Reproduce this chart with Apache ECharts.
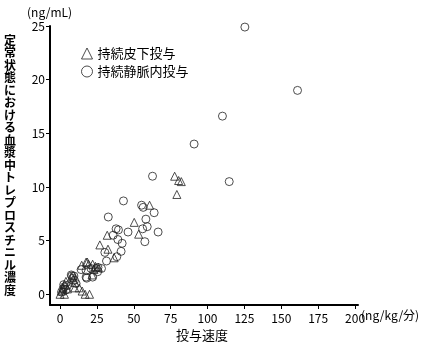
<!DOCTYPE html>
<html><head><meta charset="utf-8">
<script src="https://cdn.jsdelivr.net/npm/echarts@6/dist/echarts.min.js"></script>
<style>html,body{margin:0;padding:0;background:#fff}#c{width:437px;height:355px}</style>
</head><body><div id="c"></div>
<script>
var xTicks = [0, 25, 50, 75, 100, 125, 150, 175, 200];
var yTicks = [0, 5, 10, 15, 20, 25];
var seriesNames = ['持続皮下投与', '持続静脈内投与'];
var subcutaneous = [
  [0,0],[3,0],[1,0.3],[2,0.6],[3,0.9],[4,1.2],[2,0.4],[5,0.5],
  [8,1.6],[9,1.4],[10,1.1],[10,0.6],[13,0.6],[15,0.3],[17,0],[20,0],
  [14.7,2.7],[17.7,3.0],[19.4,2.8],[22.1,2.8],[24,2.6],[18.5,3.0],[21.7,1.8],[23,2.3],
  [27,4.6],[32,5.5],[32.5,4.2],[36.7,3.4],[26,2.5],
  [50.3,6.7],[53.3,5.6],[60.7,8.3],
  [77.7,11.0],[80.4,10.6],[82.2,10.5],[79.2,9.3]
];
var intravenous = [
  [1,0.2],[2,0.5],[3,0.7],[4,0.4],[2.5,0.9],[5,0.8],
  [7.6,1.8],[8.7,1.5],[9.8,1.3],[10.9,1.0],[8,1.7],[9.4,1.7],
  [14.3,2.3],[17.7,2.2],[21,2.4],[24.4,2.4],[25.7,2.5],[28.1,2.4],[25.5,2.1],
  [17.7,1.6],[22.1,1.6],[18.1,1.5],
  [30.4,3.9],[31.5,3.1],[38.5,3.5],[41.4,4.0],[42.1,4.75],[39.2,5.1],[36,5.5],[38,6.1],[39.6,6.0],[46.1,5.8],[32.7,7.2],[43,8.7],
  [55.3,8.3],[56.4,8.1],[63.8,7.6],[58.2,7.0],[59.1,6.3],[56,6.1],[57.5,4.9],[66.5,5.8],
  [62.7,11.0],[90.9,14.0],[110.1,16.6],[114.7,10.5],[125.3,24.9],[161,19.0]
];
var yTitle = '定常状態における血漿中トレプロスチニル濃度';
var yUnit = '(ng/mL)';
var xUnit = '(ng/kg/分)';
var xTitle = '投与速度';

var FONT = '"Noto Sans CJK JP", sans-serif';
var chart = echarts.init(document.getElementById('c'));
var axisCommon = {
  axisLine: {show: true, onZero: false, lineStyle: {color: '#000', width: 2}},
  axisTick: {show: true, length: 4, lineStyle: {color: '#000', width: 1}},
  axisLabel: {color: '#000', fontSize: 12, fontFamily: FONT},
  splitLine: {show: false}
};
chart.setOption({
  animation: false,
  backgroundColor: '#fff',
  grid: {left: 50, right: 79, top: 26, bottom: 50},
  legend: {
    orient: 'vertical', left: 76, top: 42, itemGap: 5, itemWidth: 11, itemHeight: 11,
    itemStyle: {borderWidth: 1, borderColor: '#222', color: 'rgba(255,255,255,0)'},
    textStyle: {color: '#000', fontSize: 13, fontFamily: FONT},
    data: [{name: seriesNames[0], icon: 'triangle'}, {name: seriesNames[1], icon: 'circle'}]
  },
  xAxis: Object.assign({}, axisCommon, {
    type: 'value', min: -6.8, max: 202,
    axisTick: Object.assign({}, axisCommon.axisTick, {customValues: xTicks}),
    axisLabel: Object.assign({}, axisCommon.axisLabel, {customValues: xTicks, margin: 7})
  }),
  yAxis: Object.assign({}, axisCommon, {
    type: 'value', min: -1, max: 25,
    axisTick: Object.assign({}, axisCommon.axisTick, {customValues: yTicks}),
    axisLabel: Object.assign({}, axisCommon.axisLabel, {customValues: yTicks, margin: 5})
  }),
  graphic: [
    {type: 'text', left: 27, top: 6, style: {text: yUnit, fontSize: 12, fontFamily: FONT, fill: '#000'}},
    {type: 'text', left: 361, top: 309, style: {text: xUnit, fontSize: 12, fontFamily: FONT, fill: '#000'}},
    {type: 'text', left: 176, top: 329, style: {text: xTitle, fontSize: 13, fontFamily: FONT, fill: '#000'}},
    {type: 'text', left: 4, top: 34, style: {text: yTitle.split('').join('\n'), fontSize: 12, lineHeight: 12.5, fontFamily: FONT, fill: '#000', fontWeight: 'bold'}}
  ],
  series: [
    {name: seriesNames[0], type: 'scatter', symbol: 'triangle', symbolSize: 8, data: subcutaneous,
     itemStyle: {color: 'rgba(255,255,255,0)', borderColor: '#222', borderWidth: 1}},
    {name: seriesNames[1], type: 'scatter', symbol: 'circle', symbolSize: 8, data: intravenous,
     itemStyle: {color: 'rgba(255,255,255,0)', borderColor: '#222', borderWidth: 1}}
  ]
});
</script></body></html>
